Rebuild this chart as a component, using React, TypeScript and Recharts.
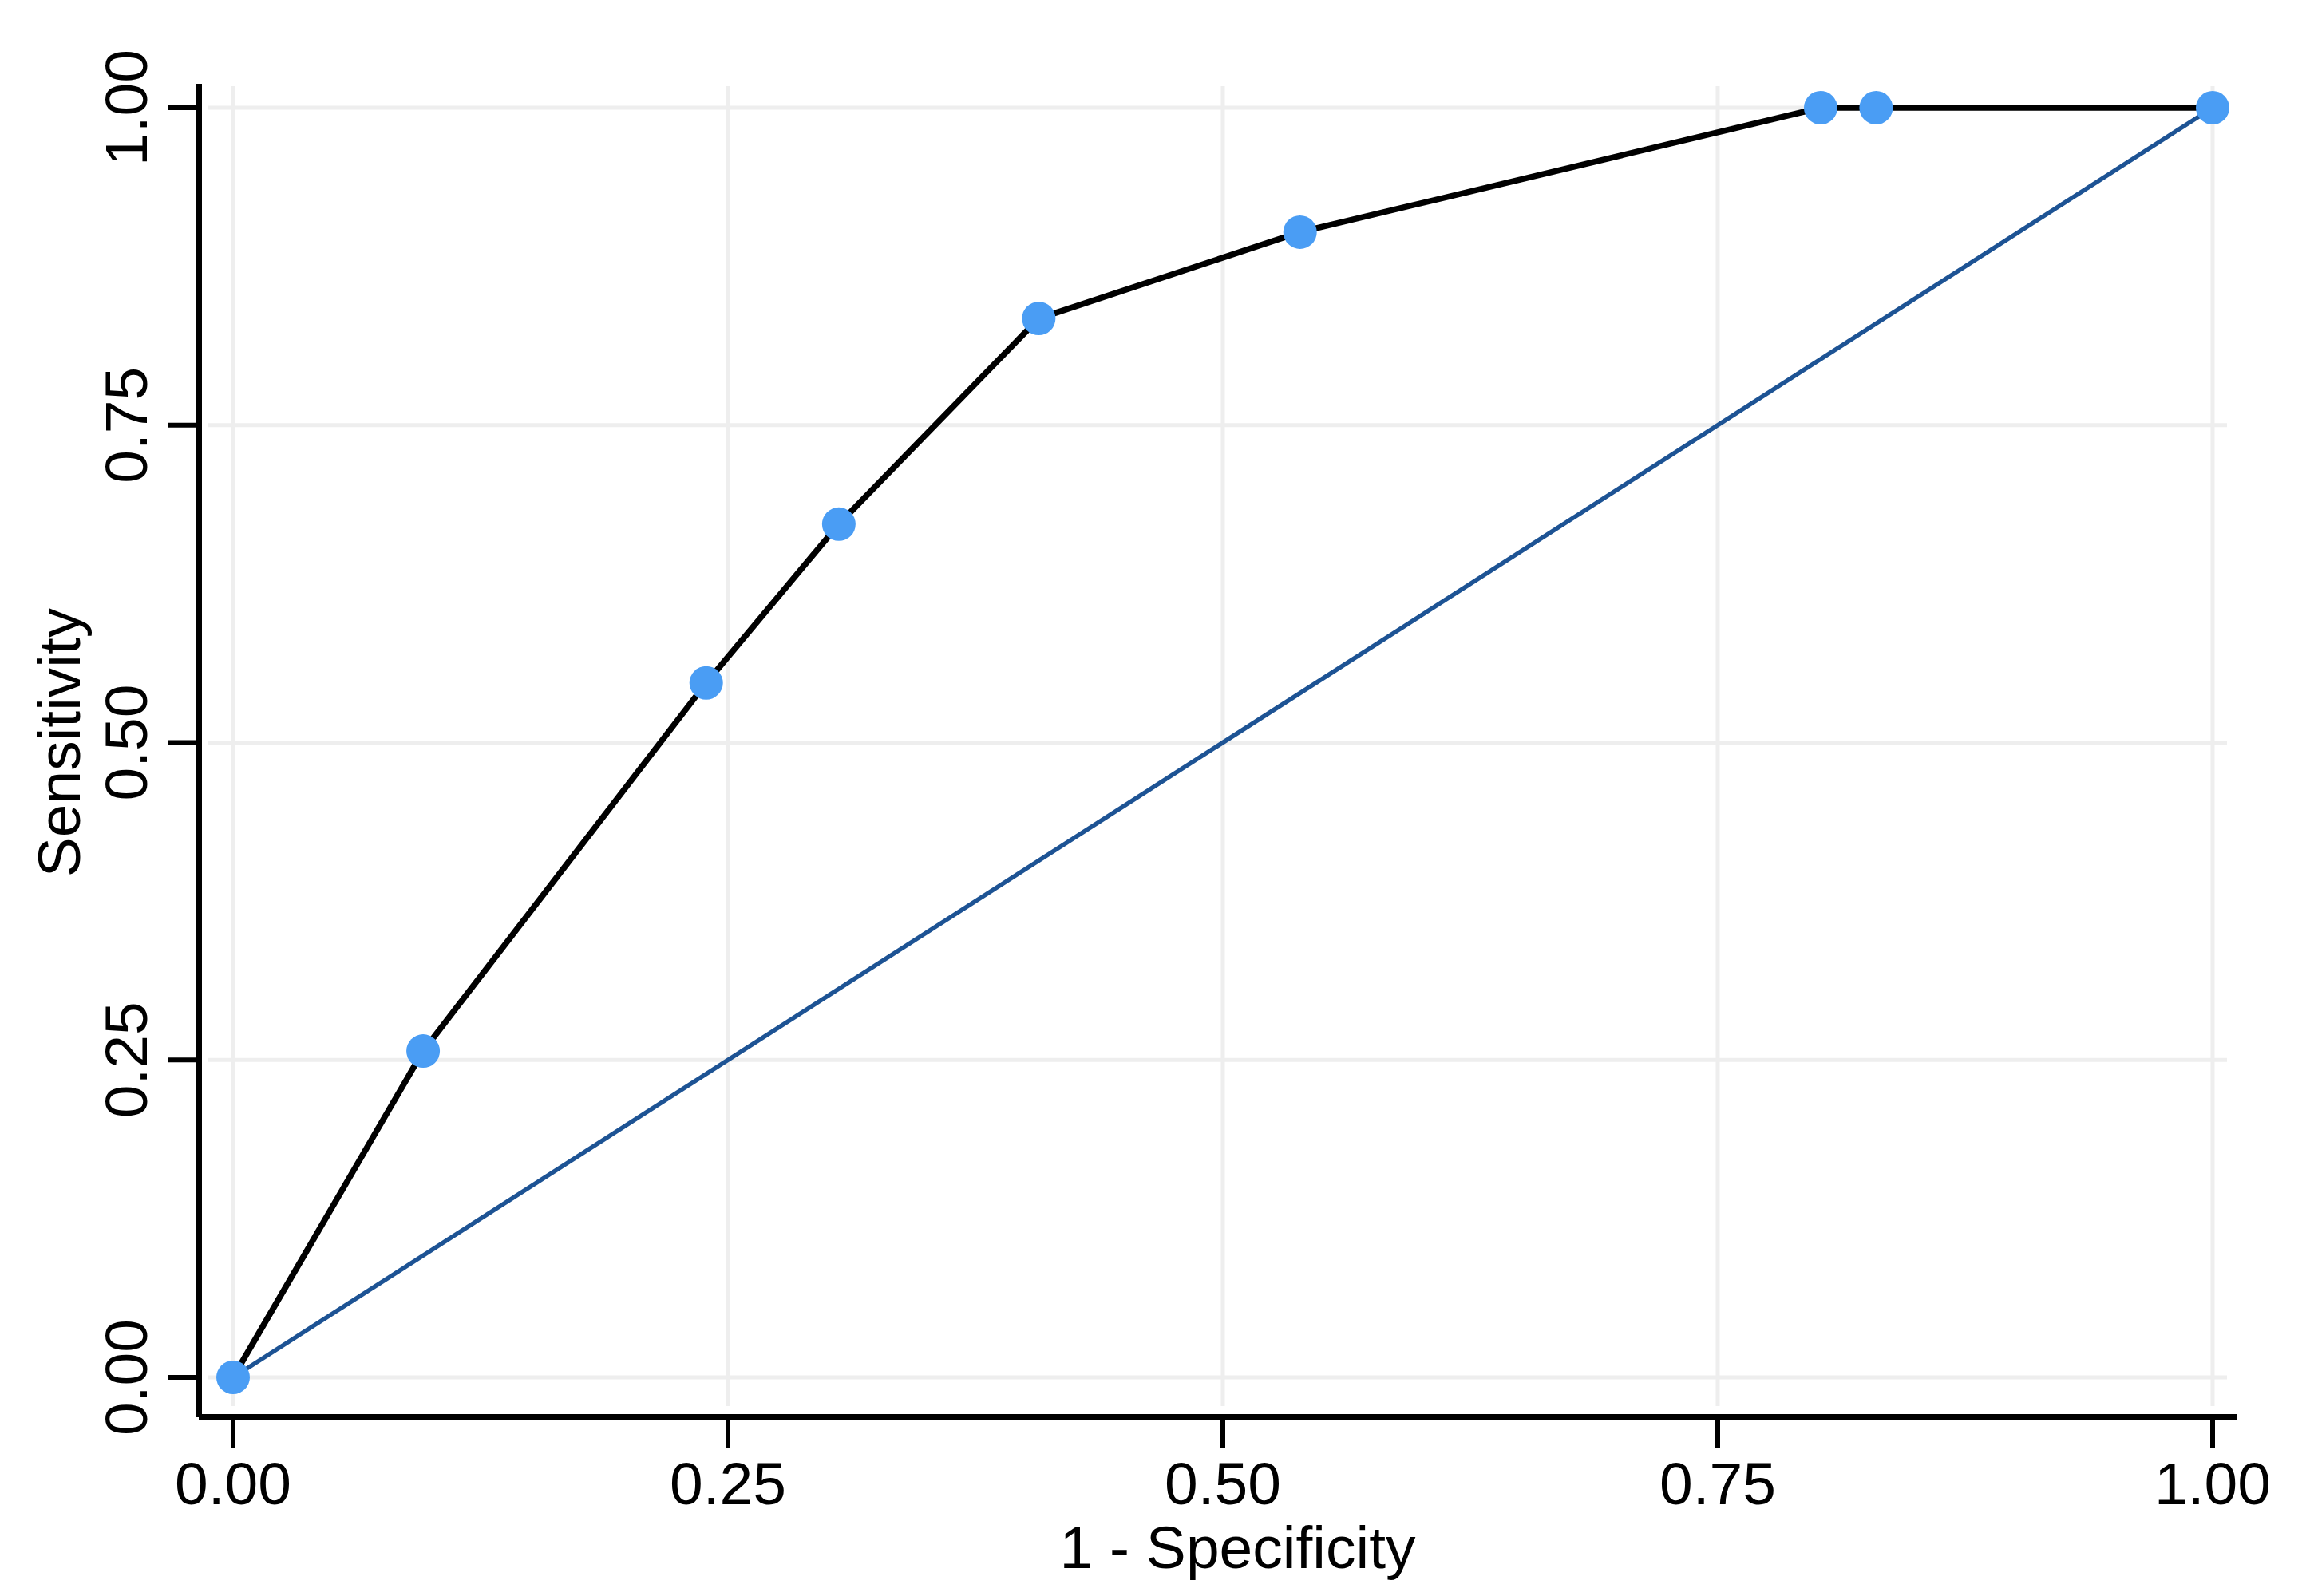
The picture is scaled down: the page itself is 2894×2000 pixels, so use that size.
import React from 'react';
import { ComposedChart, Line, XAxis, YAxis, CartesianGrid, Label } from 'recharts';

// ROC curve points (1 - specificity, sensitivity)
const fpr = [0, 0.096, 0.239, 0.306, 0.407, 0.539, 0.802, 0.830, 1];
const tpr = [0, 0.257, 0.547, 0.672, 0.834, 0.902, 1, 1, 1];
// Reference (chance) line
const refX = [0, 1];
const refY = [0, 1];
// Axis ticks
const tickValues = [0, 0.25, 0.5, 0.75, 1];
const tickLabels = ['0.00', '0.25', '0.50', '0.75', '1.00'];

const xDomain = [-0.01734, 1.0121];
const yDomain = [-0.03142, 1.01886];

const rocData = fpr.map((x, i) => ({ x, y: tpr[i] }));
const refData = refX.map((x, i) => ({ x, y: refY[i] }));

const FONT = '"Liberation Sans", Arial, Helvetica, sans-serif';
const FS = 75;

const labelFor = (v: number) => {
  const i = tickValues.indexOf(v);
  return i >= 0 ? tickLabels[i] : String(v);
};

const XTick = (props: any) => {
  const { x, y, payload } = props;
  return (
    <text x={x} y={y} dy={71} textAnchor="middle" fontSize={FS} fontFamily={FONT} fill="#000">
      {labelFor(payload.value)}
    </text>
  );
};

const YTick = (props: any) => {
  const { x, y, payload } = props;
  const tx = x - 27;
  return (
    <text
      x={tx}
      y={y}
      transform={`rotate(-90, ${tx}, ${y})`}
      textAnchor="middle"
      fontSize={FS}
      fontFamily={FONT}
      fill="#000"
    >
      {labelFor(payload.value)}
    </text>
  );
};

const hGrid = (p: any) => (
  <line
    key={p.key}
    x1={p.x1 + 12}
    x2={p.x2 - 12}
    y1={p.y1}
    y2={p.y2}
    stroke="#eeeeee"
    strokeWidth={5}
  />
);
const vGrid = (p: any) => (
  <line
    key={p.key}
    x1={p.x1}
    x2={p.x2}
    y1={p.y1 + 3}
    y2={p.y2 - 14}
    stroke="#eeeeee"
    strokeWidth={5}
  />
);

export default function App() {
  return (
    <div style={{ position: 'absolute', left: 0, top: 0, width: 2894, height: 2000, background: '#fff' }}>
      <ComposedChart
        width={2894}
        height={2000}
        margin={{ top: 105, right: 92, bottom: 0, left: 0 }}
      >
        <CartesianGrid
          syncWithTicks
          horizontal={hGrid}
          vertical={vGrid}
          stroke="#eeeeee"
          strokeWidth={5}
        />
        <XAxis
          dataKey="x"
          type="number"
          domain={xDomain}
          allowDataOverflow
          ticks={tickValues}
          interval={0}
          height={224}
          tickSize={38}
          tickMargin={0}
          axisLine={{ stroke: '#000', strokeWidth: 8 }}
          tickLine={{ stroke: '#000', strokeWidth: 6 }}
          tick={<XTick />}
        >
          <Label
            content={(p: any) => {
              const vb = p.viewBox || { x: 249, y: 1776, width: 2553, height: 224 };
              return (
                <text
                  x={vb.x + vb.width / 2 + 25}
                  y={vb.y + 189}
                  textAnchor="middle"
                  fontSize={FS}
                  fontFamily={FONT}
                  fill="#000"
                >
                  1 - Specificity
                </text>
              );
            }}
          />
        </XAxis>
        <YAxis
          dataKey="y"
          type="number"
          domain={yDomain}
          allowDataOverflow
          ticks={tickValues}
          interval={0}
          width={249}
          tickSize={38}
          tickMargin={0}
          axisLine={{ stroke: '#000', strokeWidth: 8 }}
          tickLine={{ stroke: '#000', strokeWidth: 6 }}
          tick={<YTick />}
        >
          <Label
            content={(p: any) => {
              const vb = p.viewBox || { x: 0, y: 105, width: 249, height: 1671 };
              const cx = 100;
              const cy = vb.y + vb.height / 2 - 10;
              return (
                <text
                  x={cx}
                  y={cy}
                  transform={`rotate(-90, ${cx}, ${cy})`}
                  textAnchor="middle"
                  fontSize={FS}
                  fontFamily={FONT}
                  fill="#000"
                >
                  Sensitivity
                </text>
              );
            }}
          />
        </YAxis>
        <Line
          data={refData}
          dataKey="y"
          type="linear"
          stroke="#1d5394"
          strokeWidth={5.5}
          dot={false}
          activeDot={false}
          isAnimationActive={false}
        />
        <Line
          data={rocData}
          dataKey="y"
          type="linear"
          stroke="#000"
          strokeWidth={7.5}
          dot={{ r: 21, fill: '#4a9df4', stroke: 'none', strokeWidth: 0 }}
          activeDot={false}
          isAnimationActive={false}
        />
      </ComposedChart>
    </div>
  );
}
